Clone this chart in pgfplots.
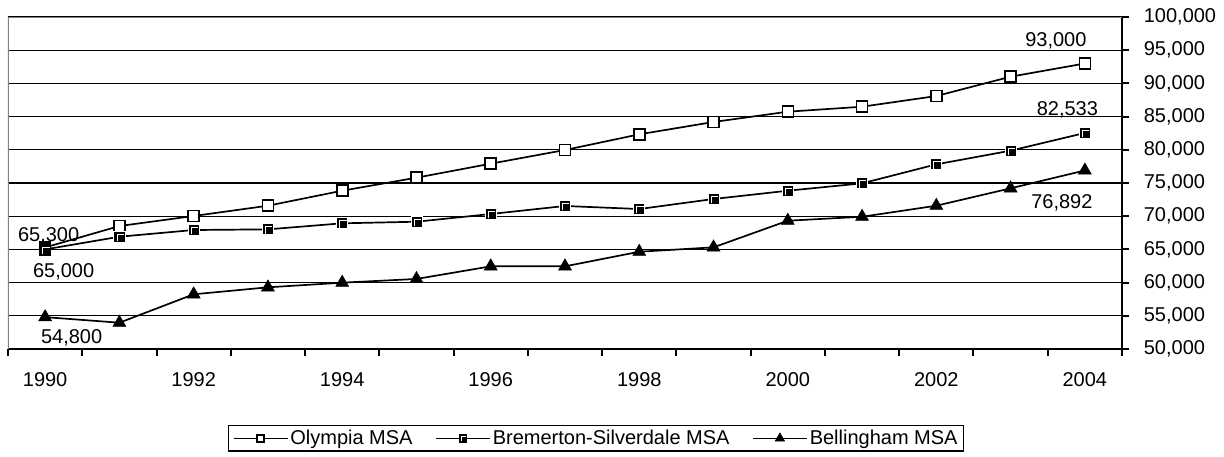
\documentclass[border=0pt]{standalone}
\usepackage{fontspec}
\setmainfont{Liberation Sans}
\usepackage{pgfplots}
\pgfplotsset{compat=1.18}

\pgfdeclareplotmark{bremsq}{%
  \pgfpathrectangle{\pgfpoint{-\pgfplotmarksize}{-\pgfplotmarksize}}{\pgfpoint{2\pgfplotmarksize}{2\pgfplotmarksize}}%
  \pgfusepathqfillstroke
  \pgfsetstrokecolor{white}%
  \pgfsetlinewidth{0.8pt}%
  \pgfpathmoveto{\pgfpoint{-0.45\pgfplotmarksize}{-0.8\pgfplotmarksize}}%
  \pgfpathlineto{\pgfpoint{-0.45\pgfplotmarksize}{0.45\pgfplotmarksize}}%
  \pgfpathlineto{\pgfpoint{0.8\pgfplotmarksize}{0.45\pgfplotmarksize}}%
  \pgfusepathqstroke
}

\pgfplotsset{legsmall/.style={legend image code/.code={\draw[##1, mark size=#1, mark repeat=2, mark phase=2] plot coordinates {(0pt,0pt) (27pt,0pt) (54pt,0pt)};}}}

\pgfplotstableread{
year olympia bremerton bellingham
1990 65300 65000 54800
1991 68520 66910 53960
1992 70030 67920 58240
1993 71580 68020 59290
1994 73840 68930 59990
1995 75800 69170 60550
1996 77910 70330 62450
1997 79970 71540 62450
1998 82330 71080 64650
1999 84190 72590 65310
2000 85740 73840 69320
2001 86490 74950 69920
2002 88100 77810 71580
2003 91010 79870 74200
2004 93000 82533 76892
}\datatable

\begin{document}
\fontsize{20}{24}\selectfont
\begin{tikzpicture}
\path[use as bounding box] (0,0) rectangle (1224pt,456pt);
\begin{axis}[
  at={(8pt,107pt)}, anchor=south west,
  scale only axis, width=1114pt, height=332pt,
  xmin=1989.5, xmax=2004.5, ymin=50000, ymax=100000,
  axis x line*=bottom, axis y line*=right,
  axis line style={line width=2pt, black},
  xtick={1989.5,1990.5,1991.5,1992.5,1993.5,1994.5,1995.5,1996.5,1997.5,1998.5,1999.5,2000.5,2001.5,2002.5,2003.5,2004.5},
  xticklabels={,,,,,,,,,,,,,,,},
  extra x ticks={1990,1992,1994,1996,1998,2000,2002,2004},
  extra x tick labels={1990,1992,1994,1996,1998,2000,2002,2004},
  extra x tick style={major tick length=0pt, xticklabel style={yshift=-17pt}},
  ytick={50000,55000,60000,65000,70000,75000,80000,85000,90000,95000,100000},
  yticklabels={{50,000},{55,000},{60,000},{65,000},{70,000},{75,000},{80,000},{85,000},{90,000},{95,000},{100,000}},
  yticklabel style={xshift=8pt},
  scaled y ticks=false,
  tick align=outside, major tick length=7pt,
  tick style={line width=2pt, black},
  ymajorgrids, grid style={line width=1.2pt, black},
  legend columns=3,
  legend style={at={(0.1975,-0.2289)}, anchor=north west, draw=black, line width=1.3pt,
    /tikz/every even column/.append style={column sep=20.5pt},
    inner xsep=4pt, inner ysep=2pt, font=\fontsize{20}{24}\selectfont},
  legend cell align=left,
]
\draw[line width=2pt, color=black!50] (rel axis cs:0,0) -- (rel axis cs:0,1) -- (rel axis cs:1,1);

\addplot[black, line width=1.7pt, mark=square*, mark size=5.5pt,
  mark options={solid, fill=white, draw=black, line width=1.6pt}, legsmall=3.5pt]
  table[x=year, y=olympia] {\datatable};
\addlegendentry{Olympia MSA}

\addplot[black, line width=1.7pt, mark=bremsq, mark size=5.5pt,
  mark options={solid, fill=black, draw=black, line width=1.4pt}, legsmall=3.5pt]
  table[x=year, y=bremerton] {\datatable};
\addlegendentry{Bremerton-Silverdale MSA}

\addplot[black, line width=1.7pt, mark=triangle*, mark size=7.5pt,
  mark options={solid, fill=black, draw=black, line width=0.5pt}, legsmall=5.5pt]
  table[x=year, y=bellingham] {\datatable};
\addlegendentry{Bellingham MSA}

\node[anchor=base, xshift=3.5pt, yshift=6pt] at (axis cs:1990,65300) {65,300};
\node[anchor=base, xshift=18.5pt, yshift=-28pt] at (axis cs:1990,65000) {65,000};
\node[anchor=base, xshift=26.5pt, yshift=-26pt] at (axis cs:1990,54800) {54,800};
\node[anchor=base, xshift=-29pt, yshift=16.5pt] at (axis cs:2004,93000) {93,000};
\node[anchor=base, xshift=-17.5pt, yshift=17.5pt] at (axis cs:2004,82533) {82,533};
\node[anchor=base, xshift=-23pt, yshift=-38pt] at (axis cs:2004,76892) {76,892};
\end{axis}
\end{tikzpicture}
\end{document}
